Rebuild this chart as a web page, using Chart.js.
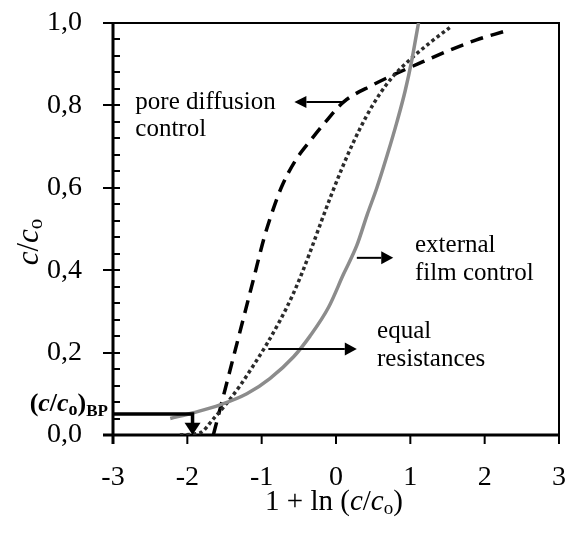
<!DOCTYPE html>
<html>
<head>
<meta charset="utf-8">
<script src="https://cdn.jsdelivr.net/npm/chart.js@4/dist/chart.umd.min.js"></script>
<style>
  html, body { margin: 0; padding: 0; background: #fff; }
  #chart { display: block; }
</style>
</head>
<body>
<canvas id="chart" width="571" height="542"></canvas>
<script>
// axis ticks
const xTickLabels = ["-3", "-2", "-1", "0", "1", "2", "3"];
const yTickLabels = ["0,0", "0,2", "0,4", "0,6", "0,8", "1,0"];

// pore diffusion control (dashed)
const poreX = [-1.65, -1.54, -1.40, -1.29, -1.21, -1.12, -0.96, -0.86, -0.73, -0.55, -0.33, -0.15, 0.10, 0.50, 0.82, 1.17, 1.53, 1.89, 2.25];
const poreY = [0.0, 0.077, 0.175, 0.252, 0.308, 0.371, 0.483, 0.54, 0.603, 0.665, 0.718, 0.758, 0.808, 0.85, 0.878, 0.906, 0.934, 0.959, 0.979];

// equal resistances (dotted)
const equalX = [-2.10, -1.83, -1.65, -1.47, -1.29, -1.11, -0.93, -0.75, -0.60, -0.46, -0.33, -0.19, -0.06, 0.08, 0.23, 0.41, 0.59, 0.77, 1.0, 1.27, 1.53];
const equalY = [0.0, 0.005, 0.039, 0.077, 0.12, 0.169, 0.221, 0.279, 0.333, 0.392, 0.453, 0.522, 0.584, 0.647, 0.709, 0.774, 0.828, 0.871, 0.912, 0.953, 0.989];

// external film control (grey)
const filmX = [-2.23, -1.92, -1.56, -1.20, -0.89, -0.57, -0.35, -0.10, 0.10, 0.28, 0.42, 0.55, 0.69, 0.82, 0.93, 1.02, 1.08, 1.11];
const filmY = [0.04, 0.054, 0.073, 0.10, 0.137, 0.19, 0.24, 0.31, 0.39, 0.46, 0.535, 0.60, 0.68, 0.76, 0.835, 0.91, 0.97, 1.0];

const bpX = -1.93;
const bpY = 0.051;

const FAMILY = '"Liberation Serif", "Times New Roman", serif';
const font = (size, style) => (style ? style + " " : "") + size + "px " + FAMILY;

function toPoints(xs, ys) {
  return xs.map((x, i) => ({ x, y: ys[i] }));
}

function drawRich(ctx, x, y, parts, align) {
  let total = 0;
  parts.forEach((p) => {
    ctx.font = p.font;
    p.w = ctx.measureText(p.t).width;
    total += p.w;
  });
  let cx = align === "center" ? x - total / 2 : align === "right" ? x - total : x;
  parts.forEach((p) => {
    ctx.font = p.font;
    ctx.fillText(p.t, cx, y + (p.dy || 0));
    cx += p.w;
  });
}

function arrow(ctx, x1, y1, x2, y2, lw, headLen, headW) {
  const a = Math.atan2(y2 - y1, x2 - x1);
  const bx = x2 - Math.cos(a) * headLen;
  const by = y2 - Math.sin(a) * headLen;
  ctx.lineWidth = lw;
  ctx.beginPath();
  ctx.moveTo(x1, y1);
  ctx.lineTo(bx, by);
  ctx.stroke();
  ctx.beginPath();
  ctx.moveTo(x2, y2);
  ctx.lineTo(bx + Math.sin(a) * headW / 2, by - Math.cos(a) * headW / 2);
  ctx.lineTo(bx - Math.sin(a) * headW / 2, by + Math.cos(a) * headW / 2);
  ctx.closePath();
  ctx.fill();
}

// keep the plot box where the original has it
function noScalePadding(s) {
  s.paddingTop = 0;
  s.paddingBottom = 0;
  s.paddingLeft = 0;
  s.paddingRight = 0;
}

const framePlugin = {
  id: "frame",
  beforeDatasetsDraw(chart) {
    const { ctx, chartArea: a, scales } = chart;
    const xs = scales.x, ys = scales.y;
    ctx.save();
    ctx.strokeStyle = "#000";
    ctx.lineCap = "butt";
    // top and right border
    ctx.lineWidth = 2;
    ctx.beginPath();
    ctx.moveTo(a.left - 10, a.top);
    ctx.lineTo(a.right, a.top);
    ctx.lineTo(a.right, a.bottom + 9);
    ctx.stroke();
    // y axis minor and major ticks
    for (let k = 0; k <= 25; k++) {
      const py = Math.round(ys.getPixelForValue(k * 0.04));
      const major = k % 5 === 0;
      ctx.beginPath();
      ctx.moveTo(a.left - (major ? 10 : 0), py);
      ctx.lineTo(a.left + 7, py);
      ctx.stroke();
    }
    // x axis ticks
    xTickLabels.forEach((_, i) => {
      const px = xs.getPixelForValue(-3 + i);
      ctx.beginPath();
      ctx.moveTo(px, a.bottom);
      ctx.lineTo(px, a.bottom + 9);
      ctx.stroke();
    });
    // main axes
    ctx.lineWidth = 3;
    ctx.beginPath();
    ctx.moveTo(a.left, a.top);
    ctx.lineTo(a.left, a.bottom + 9);
    ctx.moveTo(a.left - 10, a.bottom);
    ctx.lineTo(a.right, a.bottom);
    ctx.stroke();
    ctx.restore();
  },
  afterDatasetsDraw(chart) {
    const { ctx, scales } = chart;
    const X = (v) => scales.x.getPixelForValue(v);
    const Y = (v) => scales.y.getPixelForValue(v);
    ctx.save();
    ctx.fillStyle = "#000";
    ctx.strokeStyle = "#000";

    // arrows
    arrow(ctx, X(0.10), Y(0.808), X(-0.56), Y(0.808), 2, 12, 12);
    arrow(ctx, X(0.28), Y(0.43), X(0.77), Y(0.43), 2, 12, 13);
    arrow(ctx, X(-0.91), Y(0.209), X(0.28), Y(0.209), 2, 12, 13);

    // breakpoint marker
    ctx.lineWidth = 3.5;
    ctx.beginPath();
    ctx.moveTo(X(-3), Y(bpY));
    ctx.lineTo(X(bpX), Y(bpY));
    ctx.lineTo(X(bpX), Y(0.028));
    ctx.stroke();
    ctx.beginPath();
    ctx.moveTo(X(bpX), Y(0));
    ctx.lineTo(X(bpX) - 8, Y(0.03));
    ctx.lineTo(X(bpX) + 8, Y(0.03));
    ctx.closePath();
    ctx.fill();

    // labels
    ctx.textBaseline = "alphabetic";
    ctx.textAlign = "left";
    ctx.font = font(25);
    ctx.fillText("pore diffusion", X(-2.70), 109);
    ctx.fillText("control", X(-2.70), 136);
    ctx.fillText("external", X(1.063), 252);
    ctx.fillText("film control", X(1.063), 280);
    ctx.fillText("equal", X(0.552), 338);
    ctx.fillText("resistances", X(0.552), 366);

    // (c/co)BP
    drawRich(ctx, 108, 411, [
      { t: "(", font: font(26, "bold") },
      { t: "c", font: font(26, "italic bold") },
      { t: "/", font: font(26, "bold") },
      { t: "c", font: font(26, "italic bold") },
      { t: "o", font: font(18, "bold"), dy: 4 },
      { t: ")", font: font(26, "bold") },
      { t: "BP", font: font(17, "bold"), dy: 5 },
    ], "right");

    // x title
    drawRich(ctx, 334, 510, [
      { t: "1 + ln (", font: font(29) },
      { t: "c", font: font(29, "italic") },
      { t: "/", font: font(29) },
      { t: "c", font: font(29, "italic") },
      { t: "o", font: font(19), dy: 4 },
      { t: ")", font: font(29) },
    ], "center");

    // y title
    ctx.translate(38, 242);
    ctx.rotate(-Math.PI / 2);
    drawRich(ctx, 0, 0, [
      { t: "c", font: font(31, "italic") },
      { t: "/", font: font(31) },
      { t: "c", font: font(31, "italic") },
      { t: "o", font: font(21), dy: 4 },
    ], "center");
    ctx.restore();
  },
};

new Chart(document.getElementById("chart"), {
  type: "scatter",
  data: {
    datasets: [
      {
        label: "external film control",
        data: toPoints(filmX, filmY),
        showLine: true,
        borderColor: "#8c8c8c",
        borderWidth: 3.5,
        pointRadius: 0,
        cubicInterpolationMode: "monotone",
      },
      {
        label: "equal resistances",
        data: toPoints(equalX, equalY),
        showLine: true,
        borderColor: "#2b2b2b",
        borderWidth: 3.5,
        borderDash: [3.5, 3],
        pointRadius: 0,
        cubicInterpolationMode: "monotone",
      },
      {
        label: "pore diffusion control",
        data: toPoints(poreX, poreY),
        showLine: true,
        borderColor: "#000",
        borderWidth: 3.5,
        borderDash: [13, 8],
        pointRadius: 0,
        cubicInterpolationMode: "monotone",
      },
    ],
  },
  options: {
    responsive: false,
    animation: false,
    layout: { padding: { top: 23, right: 12, left: 0, bottom: 0 } },
    plugins: { legend: { display: false }, tooltip: { enabled: false } },
    scales: {
      x: {
        type: "linear",
        min: -3,
        max: 3,
        afterFit(s) { s.height = 107; noScalePadding(s); },
        grid: { display: false, drawTicks: false },
        border: { display: false },
        ticks: {
          stepSize: 1,
          padding: 26,
          maxRotation: 0,
          autoSkip: false,
          color: "#000",
          font: { family: FAMILY, size: 28 },
          callback: (v, i) => xTickLabels[i],
        },
      },
      y: {
        min: 0,
        max: 1,
        afterFit(s) { s.width = 113; noScalePadding(s); },
        grid: { display: false, drawTicks: false },
        border: { display: false },
        ticks: {
          stepSize: 0.2,
          padding: 31,
          color: "#000",
          font: { family: FAMILY, size: 28 },
          callback: (v, i) => yTickLabels[i],
        },
      },
    },
  },
  plugins: [framePlugin],
});
</script>
</body>
</html>
